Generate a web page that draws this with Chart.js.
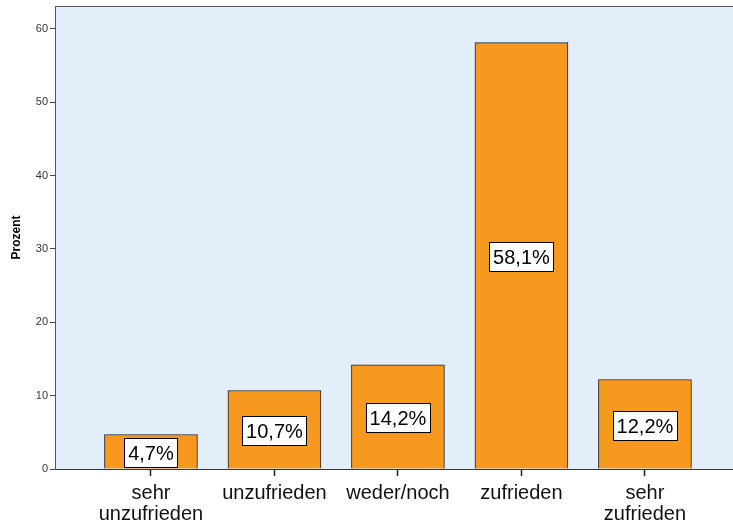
<!DOCTYPE html>
<html>
<head>
<meta charset="utf-8">
<script src="https://cdn.jsdelivr.net/npm/chart.js@4"></script>
<style>
  html, body { margin: 0; padding: 0; background: #fff; overflow: hidden; }
  #wrap { width: 733px; height: 525px; }
</style>
</head>
<body>
<div id="wrap"><canvas id="c" width="733" height="525"></canvas></div>
<script>
const categories = [['sehr', 'unzufrieden'], 'unzufrieden', 'weder/noch', 'zufrieden', ['sehr', 'zufrieden']];
const percents = [4.7, 10.7, 14.2, 58.1, 12.2];
const valueLabels = ['4,7%', '10,7%', '14,2%', '58,1%', '12,2%'];
const yTicks = [0, 10, 20, 30, 40, 50, 60];

const plotBg = {
  id: 'plotBg',
  beforeDraw(chart) {
    const { ctx, chartArea: a } = chart;
    ctx.save();
    ctx.fillStyle = '#e2eef9';
    ctx.fillRect(a.left, a.top, a.right - a.left, a.bottom - a.top);
    ctx.strokeStyle = '#555';
    ctx.lineWidth = 1;
    ctx.beginPath();
    ctx.moveTo(a.left, a.top + 0.5);
    ctx.lineTo(a.right, a.top + 0.5);
    ctx.stroke();
    ctx.restore();
  }
};

const boxLabels = {
  id: 'boxLabels',
  afterDatasetsDraw(chart) {
    const { ctx, scales } = chart;
    ctx.save();
    ctx.font = '20px "Liberation Sans", Arial, sans-serif';
    ctx.textAlign = 'center';
    ctx.textBaseline = 'middle';
    percents.forEach((v, i) => {
      const x = scales.x.getPixelForValue(i);
      const y = scales.y.getPixelForValue(v / 2);
      const txt = valueLabels[i];
      const w = Math.round(ctx.measureText(txt).width + 7);
      const h = 29;
      const bx = Math.round(x - w / 2), by = Math.round(y - h / 2) + 1;
      ctx.fillStyle = '#fff';
      ctx.fillRect(bx, by, w, h);
      ctx.strokeStyle = '#000';
      ctx.lineWidth = 1;
      ctx.strokeRect(bx + 0.5, by + 0.5, w, h);
      ctx.fillStyle = '#000';
      ctx.fillText(txt, x, y + 3);
    });
    ctx.restore();
  }
};

new Chart(document.getElementById('c'), {
  type: 'bar',
  data: {
    datasets: [{
      data: percents.map((v, i) => ({ x: i, y: v })),
      backgroundColor: '#f7981f',
      borderColor: '#222',
      borderWidth: 1,
      borderSkipped: 'bottom',
      barThickness: 93
    }]
  },
  options: {
    responsive: false,
    animation: false,
    layout: { padding: { top: 6, right: 0, left: 0, bottom: 0 } },
    plugins: { legend: { display: false }, tooltip: { enabled: false } },
    scales: {
      x: {
        type: 'linear',
        offset: false,
        min: -0.777,
        max: 4.713,
        afterBuildTicks: s => { s.ticks = categories.map((c, i) => ({ value: i })); },
        afterFit: s => { s.height = 56; s.paddingLeft = 0; s.paddingRight = 0; },
        ticks: {
          autoSkip: false,
          maxRotation: 0,
          padding: 7,
          color: '#111',
          font: { size: 20, family: '"Liberation Sans", Arial, sans-serif', lineHeight: 1.05 },
          callback: v => categories[v]
        },
        grid: { drawOnChartArea: false, offset: false, tickLength: 7, tickColor: '#222', tickWidth: 1.5 },
        border: { color: '#333', width: 1 }
      },
      y: {
        min: 0,
        max: 63.1,
        afterBuildTicks: s => { s.ticks = yTicks.map(v => ({ value: v })); },
        afterFit: s => { s.width = 55; s.paddingTop = 0; s.paddingBottom = 0; },
        ticks: {
          padding: 2,
          color: '#333',
          font: { size: 11, family: '"Liberation Sans", Arial, sans-serif' }
        },
        grid: { drawOnChartArea: false, tickLength: 5, color: '#444' },
        border: { color: '#555', width: 1 },
        title: {
          display: true,
          text: 'Prozent',
          color: '#000',
          padding: { top: 9, bottom: 0 },
          font: { size: 12, weight: 'bold', family: '"Liberation Sans", Arial, sans-serif' }
        }
      }
    }
  },
  plugins: [plotBg, boxLabels]
});
</script>
</body>
</html>
